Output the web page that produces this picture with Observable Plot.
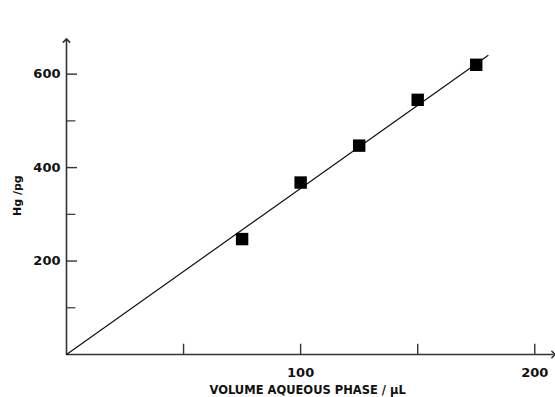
<!DOCTYPE html>
<html>
<head>
<meta charset="utf-8">
<script src="https://cdn.jsdelivr.net/npm/d3@7"></script>
<script src="https://cdn.jsdelivr.net/npm/@observablehq/plot@0.6"></script>
<style>
  html, body { margin: 0; padding: 0; background: #fff; }
  #chart svg { display: block; }
</style>
</head>
<body>
<div id="chart"></div>
<script>
// Data
const volume = [75, 100, 125, 150, 175];          // µL
const mercury = [247, 368, 447, 545, 620];        // pg
const fitX = [0, 180];
const fitY = [0, 640];
const yTicksMajor = [200, 400, 600];
const yTicksMinor = [100, 300, 500];
const xTicks = [50, 100, 150, 200];
const xTickLabels = [100, 200];
const xTitle = "VOLUME AQUEOUS PHASE / µL";
const yTitle = "Hg /pg";

const points = volume.map((v, i) => ({x: v, y: mercury[i]}));
const fit = fitX.map((v, i) => ({x: v, y: fitY[i]}));

const font = "'DejaVu Sans', 'Liberation Sans', Arial, sans-serif";

const chart = Plot.plot({
  width: 555,
  height: 397,
  marginLeft: 66,
  marginRight: 2,
  marginTop: 40,
  marginBottom: 43,
  x: {domain: [0, 208], axis: null},
  y: {domain: [0, 672], axis: null},
  style: {background: "#fff", fontFamily: font},
  marks: [
    // axes with arrowheads
    Plot.link([{x1: 0, y1: 0, x2: 0, y2: 672}], {x1: "x1", y1: "y1", x2: "x2", y2: "y2", stroke: "#333", strokeWidth: 1.6, markerEnd: "arrow"}),
    Plot.link([{x1: 0, y1: 0, x2: 208, y2: 0}], {x1: "x1", y1: "y1", x2: "x2", y2: "y2", stroke: "#333", strokeWidth: 1.6, markerEnd: "arrow"}),
    // inward ticks
    Plot.ruleY(yTicksMajor, {y: d => d, x1: 0, x2: 4.7, stroke: "#333", strokeWidth: 1.4}),
    Plot.ruleY(yTicksMinor, {y: d => d, x1: 0, x2: 4.0, stroke: "#333", strokeWidth: 1.2}),
    Plot.ruleX(xTicks, {x: d => d, y1: 0, y2: 22, stroke: "#333", strokeWidth: 1.4}),
    // tick labels
    Plot.text(yTicksMajor, {x: 0, y: d => d, text: d => String(d), textAnchor: "end", dx: -6, fontSize: 13, fontWeight: "bold", fill: "#111", style: "letter-spacing:1px"}),
    Plot.text(xTickLabels, {x: d => d, y: 0, text: d => String(d), dy: 18, fontSize: 13, fontWeight: "bold", fill: "#111", style: "letter-spacing:1px"}),
    // titles
    Plot.text([xTitle], {x: 103, y: 0, text: d => d, dy: 36, fontSize: 11.5, fontWeight: "bold", fill: "#111"}),
    Plot.text([yTitle], {x: 0, y: 340, text: d => d, dx: -49, rotate: -90, fontSize: 11, fontWeight: "bold", fill: "#111"}),
    // fit line
    Plot.line(fit, {x: "x", y: "y", stroke: "#111", strokeWidth: 1.2}),
    // data points
    Plot.dot(points, {x: "x", y: "y", symbol: "square", r: 7, fill: "#000", stroke: "none"})
  ]
});
document.getElementById("chart").appendChild(chart);
</script>
</body>
</html>
